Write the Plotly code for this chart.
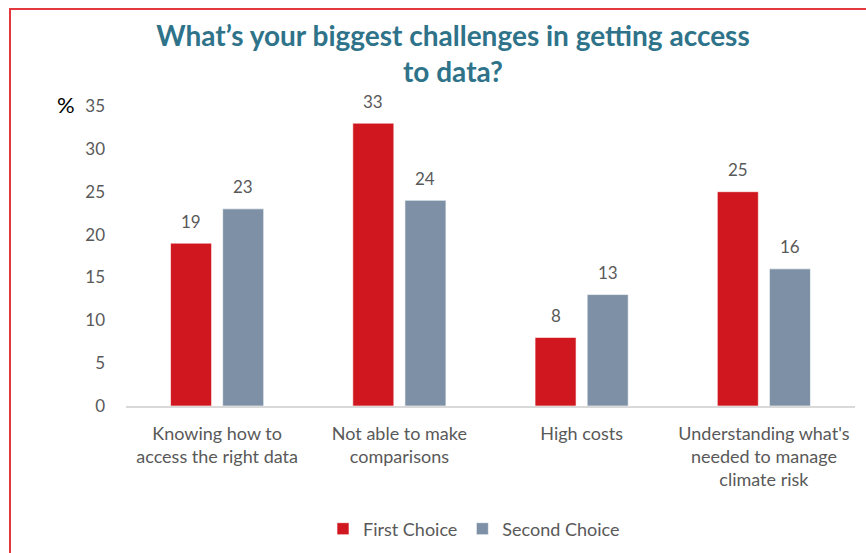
import plotly.graph_objects as go

categories = [
    "Knowing how to<br>access the right data",
    "Not able to make<br>comparisons",
    "High costs",
    "Understanding what's<br>needed to manage<br>climate risk",
]
first_choice = [19, 33, 8, 25]
second_choice = [23, 24, 13, 16]
y_ticks = [0, 5, 10, 15, 20, 25, 30, 35]

RED = "#D0161E"
GREY = "#7D90A5"
TEXT = "#595959"
FONT = "Lato"

BAR_W = 0.225      # width of each bar in category units
HALF_SEP = 0.143   # distance from category centre to each bar centre

L, R, T, B = 126, 11, 106, 147
W, H = 866, 553
pw, ph = W - L - R, H - T - B


def px_x(px):
    """Horizontal pixel position -> paper units."""
    return (px - L) / pw


def px_y(py):
    """Vertical pixel position (from top) -> paper units."""
    return (H - B - py) / ph


pos = list(range(len(categories)))
x_first = [p - HALF_SEP for p in pos]
x_second = [p + HALF_SEP for p in pos]

fig = go.Figure()
fig.add_trace(go.Bar(
    x=x_first, y=first_choice, width=BAR_W, name="First Choice",
    marker=dict(color=RED, line=dict(color="rgba(255,255,255,0.6)", width=1)),
    hoverinfo="y",
))
fig.add_trace(go.Bar(
    x=x_second, y=second_choice, width=BAR_W, name="Second Choice",
    marker=dict(color=GREY, line=dict(color="rgba(255,255,255,0.6)", width=1)),
    hoverinfo="y",
))

# value labels above each bar
annotations = []
for xs, ys in ((x_first, first_choice), (x_second, second_choice)):
    for x, y in zip(xs, ys):
        annotations.append(dict(
            x=x, y=y, xref="x", yref="y", text=str(y), showarrow=False,
            xanchor="center", yanchor="middle", yshift=22,
            font=dict(family=FONT, size=17, color=TEXT),
        ))

# "%" unit label beside the top of the y axis
annotations.append(dict(
    x=px_x(66), y=px_y(104), xref="paper", yref="paper", text="%",
    showarrow=False, xanchor="center", yanchor="middle",
    font=dict(family=FONT, size=22, color="#000000"),
))

fig.update_layout(
    width=W, height=H,
    margin=dict(l=L, r=R, t=T, b=B),
    paper_bgcolor="white", plot_bgcolor="white",
    barmode="overlay",
    title=dict(
        text="What’s your biggest challenges in getting access<br>to data?",
        x=453 / W, xanchor="center", xref="container",
        y=1 - 46 / H, yanchor="middle", yref="container",
        font=dict(family=FONT, size=28, color="#2E7389", weight="bold"),
    ),
    xaxis=dict(
        range=[-0.5, len(categories) - 0.5],
        tickvals=pos, ticktext=categories,
        showgrid=False, zeroline=False,
        showline=True, linecolor="#D9D9D9", linewidth=2,
        ticks="", ticklabelstandoff=10,
        tickfont=dict(family=FONT, size=18, color=TEXT),
        fixedrange=True,
    ),
    yaxis=dict(
        range=[0, 35], tickvals=y_ticks,
        showgrid=False, zeroline=False, showline=False,
        ticks="", ticklabelstandoff=20,
        tickfont=dict(family=FONT, size=17, color=TEXT),
        fixedrange=True,
    ),
    legend=dict(
        orientation="h", xref="paper", x=px_x(474), xanchor="center",
        yref="container", y=(H - 529) / H, yanchor="middle",
        font=dict(family=FONT, size=18, color=TEXT),
        itemwidth=30, traceorder="normal",
    ),
    annotations=annotations,
    shapes=[dict(
        type="rect", xref="paper", yref="paper",
        x0=px_x(10), x1=px_x(W + 20),
        y0=px_y(H + 20), y1=px_y(9),
        line=dict(color="#E2383E", width=2), fillcolor="rgba(0,0,0,0)",
        layer="above",
    )],
)

fig.write_html("out.html")
